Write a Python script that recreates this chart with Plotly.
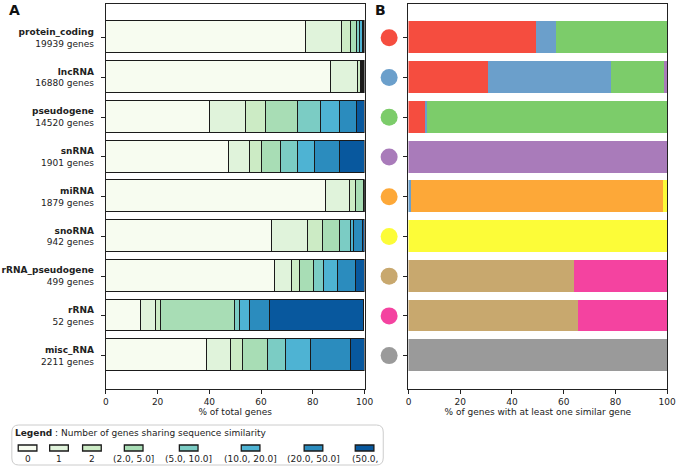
import plotly.graph_objects as go

W, H = 687, 468

# data
gene_types = ['protein_coding', 'lncRNA', 'pseudogene', 'snRNA', 'miRNA',
              'snoRNA', 'rRNA_pseudogene', 'rRNA', 'misc_RNA']
gene_counts = [19939, 16880, 14520, 1901, 1879, 942, 499, 52, 2211]

bins = ['0', '1', '2', '(2.0, 5.0]', '(5.0, 10.0]', '(10.0, 20.0]', '(20.0, 50.0]', '(50.0,']
bin_colors = ['#f7fcf0', '#e0f3db', '#ccebc5', '#a8ddb5', '#7bccc4', '#4eb3d3', '#2b8cbe', '#08589e']

# % of total genes per bin, one list per bin (rows follow gene_types)
pct_0 = [77.2, 87.0, 40.3, 47.6, 85.1, 64.1, 65.2, 13.5, 39.2]
pct_1 = [14.2, 10.3, 14.0, 8.2, 9.3, 13.9, 6.7, 5.8, 9.3]
pct_2 = [3.3, 1.1, 7.5, 4.6, 2.1, 5.9, 3.2, 1.9, 4.5]
pct_2_5 = [2.3, 0.7, 12.6, 7.3, 3.2, 6.5, 5.4, 28.8, 9.5]
pct_5_10 = [1.2, 0.4, 8.6, 6.5, 0.1, 4.3, 3.7, 1.9, 7.0]
pct_10_20 = [1.0, 0.3, 7.5, 6.6, 0.1, 1.0, 5.3, 3.8, 9.7]
pct_20_50 = [0.5, 0.1, 6.7, 9.8, 0.1, 3.8, 7.0, 7.7, 15.4]
pct_50 = [0.3, 0.1, 2.8, 9.4, 0.0, 0.5, 3.5, 36.5, 5.4]
pct_bins = [pct_0, pct_1, pct_2, pct_2_5, pct_5_10, pct_10_20, pct_20_50, pct_50]

# % of similar genes by type of the similar gene (rows follow gene_types)
type_colors = ['#f54d3f', '#6b9fcb', '#7ccc6a', '#a97bba', '#fda838',
               '#fcfc38', '#c8a86e', '#f443a0', '#9a9a9a']
sim_protein_coding = [49.4, 30.8, 6.6, 0, 0, 0, 0, 0, 0]
sim_lncRNA = [7.8, 47.7, 0.7, 0, 1.0, 0, 0, 0, 0]
sim_pseudogene = [42.8, 20.3, 92.7, 0, 0, 0, 0, 0, 0]
sim_snRNA = [0, 1.2, 0, 100, 0, 0, 0, 0, 0]
sim_miRNA = [0, 0, 0, 0, 97.5, 0, 0, 0, 0]
sim_snoRNA = [0, 0, 0, 0, 1.5, 100, 0, 0, 0]
sim_rRNA_pseudogene = [0, 0, 0, 0, 0, 0, 64.1, 65.8, 0]
sim_rRNA = [0, 0, 0, 0, 0, 0, 35.9, 34.2, 0]
sim_misc_RNA = [0, 0, 0, 0, 0, 0, 0, 0, 100]
sim_by_type = [sim_protein_coding, sim_lncRNA, sim_pseudogene, sim_snRNA, sim_miRNA,
               sim_snoRNA, sim_rRNA_pseudogene, sim_rRNA, sim_misc_RNA]

FONT = 'DejaVu Sans'


def px(x):
    return x / W


def py(y):
    return 1 - y / H


fig = go.Figure()

# panel A: stacked bars with black edges
for name, vals, col in zip(bins, pct_bins, bin_colors):
    fig.add_trace(go.Bar(y=gene_types, x=vals, orientation='h', name=name, width=0.8,
                         marker=dict(color=col, line=dict(color='#1a1a1a', width=1.3)),
                         xaxis='x', yaxis='y', showlegend=False))

# panel B: stacked bars, no edges
for name, vals, col in zip(gene_types, sim_by_type, type_colors):
    fig.add_trace(go.Bar(y=gene_types, x=vals, orientation='h', name=name, width=0.8,
                         marker=dict(color=col, line=dict(width=0)),
                         xaxis='x2', yaxis='y2', showlegend=False))

# coloured circles as row labels of panel B
fig.add_trace(go.Scatter(x=[0.5] * len(gene_types), y=gene_types, mode='markers',
                         marker=dict(size=17, color=type_colors),
                         xaxis='x3', yaxis='y2', showlegend=False, hoverinfo='skip'))

ydom = [py(389), py(4.3)]
yrange = [len(gene_types) - 1 + 0.84, -0.84]
ticktext = ['<b>%s</b><br>%d genes' % (g, n) for g, n in zip(gene_types, gene_counts)]

axis_style = dict(showline=True, linecolor='#222', linewidth=1.2, mirror=True,
                  ticks='outside', ticklen=4, tickcolor='#222', tickwidth=1.1,
                  showgrid=False, zeroline=False,
                  tickfont=dict(family=FONT, size=9, color='#222'))

fig.update_layout(
    width=W, height=H, barmode='stack', bargap=0,
    margin=dict(l=0, r=0, t=0, b=0),
    plot_bgcolor='white', paper_bgcolor='white',
    font=dict(family=FONT, size=9, color='#222'),
    xaxis=dict(domain=[px(104.7), px(368)], range=[0, 100], anchor='y',
               tickvals=[0, 20, 40, 60, 80, 100],
               title=dict(text='% of total genes', standoff=2,
                          font=dict(family=FONT, size=9, color='#222')),
               **axis_style),
    yaxis=dict(domain=ydom, range=yrange, anchor='x', type='category',
               tickmode='array', tickvals=gene_types, ticktext=ticktext,
               ticklabelstandoff=5, **axis_style),
    xaxis2=dict(domain=[px(412.7), px(676)], range=[0, 100], anchor='y2',
                tickvals=[0, 20, 40, 60, 80, 100],
                title=dict(text='% of genes with at least one similar gene', standoff=2,
                           font=dict(family=FONT, size=9, color='#222')),
                **axis_style),
    yaxis2=dict(domain=ydom, range=yrange, anchor='x2', type='category',
                showticklabels=False, **axis_style),
    xaxis3=dict(domain=[px(380), px(406)], range=[0, 1], anchor='y2', visible=False),
)

# panel letters
for letter, x in [('A', 4), ('B', 377)]:
    fig.add_annotation(text='<b>%s</b>' % letter, xref='paper', yref='paper',
                       x=px(x), y=py(10), xanchor='left', yanchor='middle', showarrow=False,
                       font=dict(family=FONT, size=14, color='#111'))

# legend box (rounded)
x0, x1, y0, y1, r = 9, 387, 425, 465, 7
path = ('M %f,%f L %f,%f Q %f,%f %f,%f L %f,%f Q %f,%f %f,%f L %f,%f Q %f,%f %f,%f '
        'L %f,%f Q %f,%f %f,%f Z') % (
    px(x0 + r), py(y0), px(x1 - r), py(y0), px(x1), py(y0), px(x1), py(y0 + r),
    px(x1), py(y1 - r), px(x1), py(y1), px(x1 - r), py(y1),
    px(x0 + r), py(y1), px(x0), py(y1), px(x0), py(y1 - r),
    px(x0), py(y0 + r), px(x0), py(y0), px(x0 + r), py(y0))
fig.add_shape(type='path', path=path, xref='paper', yref='paper',
              line=dict(color='#cccccc', width=1), fillcolor='rgba(255,255,255,0.8)')

fig.add_annotation(text='<b>Legend</b> : Number of genes sharing sequence similarity',
                   xref='paper', yref='paper', x=px(10), y=py(433),
                   xanchor='left', yanchor='middle', showarrow=False,
                   font=dict(family=FONT, size=9, color='#222'))

swatch_x = [25, 57, 90.5, 133, 189, 252, 316, 368]
for cx, name, col in zip(swatch_x, bins, bin_colors):
    fig.add_shape(type='rect', xref='paper', yref='paper',
                  x0=px(cx - 9.5), x1=px(cx + 9.5), y0=py(451), y1=py(445),
                  fillcolor=col, line=dict(color='#1a1a1a', width=1.3))
    fig.add_annotation(text=name, xref='paper', yref='paper', x=px(cx), y=py(458.5),
                       xanchor='center', yanchor='middle', showarrow=False,
                       font=dict(family=FONT, size=9, color='#222'))

# drop the default page margin so the figure sits at the window origin
fig.write_html("out.html", config={'displayModeBar': False},
               post_script="document.body.style.margin='0';document.body.style.overflow='hidden';")
